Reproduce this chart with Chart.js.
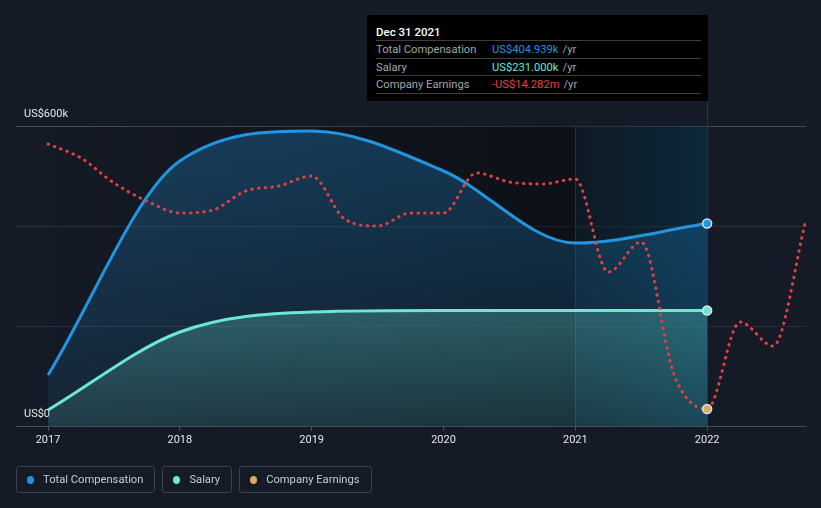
<!DOCTYPE html>
<html lang="en">
<head>
<meta charset="UTF-8">
<title>CEO Compensation vs Company Earnings</title>
<script src="https://cdn.jsdelivr.net/npm/chart.js"></script>
<style>
    * { margin: 0; padding: 0; box-sizing: border-box; }
    body {
        width: 821px; height: 508px; overflow: hidden; position: relative;
        background: #151b26; font-family: Roboto, Arial, sans-serif;
    }
    #wrap { position: absolute; left: 0; top: 0; width: 821px; height: 508px; }
    .tip {
        position: absolute; left: 367px; top: 15px; width: 341px; height: 86px;
        background: #000; padding: 0 7px 0 9px; color: #a0a5ab; font-size: 11.2px;
    }
    .tip h4 {
        font-weight: 500; color: #fff; font-size: 11.5px; line-height: 16px;
        padding-top: 9px; height: 26px; border-bottom: 1px solid #3d3d3d;
    }
    .tip .row { display: flex; height: 17.5px; line-height: 17px; border-bottom: 1px solid #3d3d3d; }
    .tip .lab { width: 116px; }
    .tip .yr { color: #a0a5ab; margin-left: 4px; }
    .legend { position: absolute; left: 16px; top: 466px; display: flex; gap: 7px; }
    .legend div {
        height: 27px; border: 1px solid #3b404b; border-radius: 3px; padding: 0 11px 0 10px;
        display: flex; align-items: center; color: #c6cad0; font-size: 11.2px;
    }
    .legend span { width: 7px; height: 8px; border-radius: 50%; margin-right: 9px; }
</style>
</head>
<body>
<div id="wrap"><canvas id="chart" width="821" height="508"></canvas></div>

<div class="tip">
    <h4>Dec 31 2021</h4>
    <div class="row"><span class="lab">Total Compensation</span><span style="color:#2394df">US$404.939k</span><span class="yr">/yr</span></div>
    <div class="row"><span class="lab">Salary</span><span style="color:#6de6d2">US$231.000k</span><span class="yr">/yr</span></div>
    <div class="row"><span class="lab">Company Earnings</span><span style="color:#e4403f">-US$14.282m</span><span class="yr">/yr</span></div>
</div>

<div class="legend">
    <div><span style="background:#2394df"></span>Total Compensation</div>
    <div><span style="background:#6de6d2"></span>Salary</div>
    <div><span style="background:#e0aa64"></span>Company Earnings</div>
</div>

<script>
    // annual figures, US$k
    const years = [2017, 2018, 2019, 2020, 2021, 2022];
    const totalComp = [102, 530, 590, 510, 366, 404.939];
    const salary = [32, 188, 228, 231, 231, 231];

    // company earnings, US$m (quarterly)
    const earningsDates = [2017, 2017.25, 2017.5, 2017.75, 2018, 2018.25, 2018.5, 2018.75,
        2019, 2019.25, 2019.5, 2019.75, 2020, 2020.25, 2020.5, 2020.75,
        2021, 2021.25, 2021.5, 2021.75, 2022, 2022.25, 2022.5, 2022.75];
    const earnings = [6.92, 5.80, 3.80, 2.36, 1.40, 1.64, 3.16, 3.56,
        4.36, 0.92, 0.36, 1.40, 1.40, 4.60, 3.88, 3.72,
        4.12, -3.32, -0.92, -11.56, -14.282, -7.32, -9.24, 0.84];

    const xTicks = [2017, 2018, 2019, 2020, 2021, 2022];
    const yTickValues = [0, 600];
    const yTickLabels = ['US$0', 'US$600k'];

    const blue = '#2394df', teal = '#6de6d2', red = '#e4403f', orange = '#e0aa64';

    function pts(xs, ys) {
        return xs.map((x, i) => ({ x: x, y: ys[i] }));
    }

    function onlyAt(xVal, r) {
        return ctx => (ctx.raw && ctx.raw.x === xVal) ? r : 0;
    }

    function vGradient(rgb, a0, a1, fromVal) {
        return ctx => {
            const area = ctx.chart.chartArea;
            if (!area) return 'transparent';
            const top = fromVal !== undefined ? ctx.chart.scales.y.getPixelForValue(fromVal) : area.top;
            const g = ctx.chart.ctx.createLinearGradient(0, top, 0, area.bottom);
            g.addColorStop(0, `rgba(${rgb},${a0})`);
            g.addColorStop(1, `rgba(${rgb},${a1})`);
            return g;
        };
    }

    // shaded periods + guide lines behind the series
    const shading = {
        id: 'shading',
        beforeDatasetsDraw(chart) {
            const { ctx, chartArea: a, scales: { x } } = chart;
            const x0 = x.getPixelForValue(2017);
            const x1 = x.getPixelForValue(2021);
            const x2 = x.getPixelForValue(2022);
            ctx.save();
            let g = ctx.createLinearGradient(x0, 0, x1, 0);
            g.addColorStop(0, 'rgba(0,0,0,0)');
            g.addColorStop(1, 'rgba(0,0,0,0.4)');
            ctx.fillStyle = g;
            ctx.fillRect(x0, a.top, x1 - x0, a.bottom - a.top);

            g = ctx.createLinearGradient(x1, 0, x2, 0);
            g.addColorStop(0, 'rgba(5,25,35,0.45)');
            g.addColorStop(1, 'rgba(5,55,80,0.5)');
            ctx.fillStyle = g;
            ctx.fillRect(x1, a.top, x2 - x1, a.bottom - a.top);

            ctx.lineWidth = 1;
            ctx.strokeStyle = 'rgba(40,85,100,0.45)';
            ctx.beginPath();
            ctx.moveTo(Math.round(x1) + 0.5, a.top);
            ctx.lineTo(Math.round(x1) + 0.5, a.bottom);
            ctx.stroke();
            ctx.strokeStyle = '#1c3a4b';
            ctx.beginPath();
            ctx.moveTo(Math.round(x2) + 0.5, 101);
            ctx.lineTo(Math.round(x2) + 0.5, a.bottom);
            ctx.stroke();
            ctx.restore();
        }
    };

    new Chart(document.getElementById('chart'), {
        type: 'line',
        data: {
            datasets: [
                {
                    label: 'Company Earnings',
                    data: pts(earningsDates, earnings),
                    yAxisID: 'y2',
                    borderColor: red,
                    borderWidth: 3,
                    borderDash: [0.5, 6.2],
                    borderCapStyle: 'round',
                    fill: false,
                    order: 0,
                    pointRadius: onlyAt(2022, 4.5),
                    pointBackgroundColor: orange,
                    pointBorderColor: '#d9e2ea',
                    pointBorderWidth: 1.5
                },
                {
                    label: 'Salary',
                    data: pts(years, salary),
                    borderColor: teal,
                    borderWidth: 3,
                    backgroundColor: vGradient('110,230,210', 0.27, 0.12, 231),
                    fill: 'origin',
                    order: 1,
                    pointRadius: onlyAt(2022, 4.5),
                    pointBackgroundColor: teal,
                    pointBorderColor: '#d9e2ea',
                    pointBorderWidth: 1.5
                },
                {
                    label: 'Total Compensation',
                    data: pts(years, totalComp),
                    borderColor: blue,
                    borderWidth: 3,
                    backgroundColor: vGradient('35,148,223', 0.3, 0.08),
                    fill: 'origin',
                    order: 2,
                    pointRadius: onlyAt(2022, 4.5),
                    pointBackgroundColor: blue,
                    pointBorderColor: '#d9e2ea',
                    pointBorderWidth: 1.5
                }
            ]
        },
        options: {
            responsive: false,
            animation: false,
            events: [],
            cubicInterpolationMode: 'monotone',
            layout: { padding: { left: 16, right: 15, top: 126, bottom: 52 } },
            plugins: { legend: { display: false }, tooltip: { enabled: false } },
            scales: {
                x: {
                    type: 'linear',
                    min: 2016.757,
                    max: 2022.75,
                    afterBuildTicks: scale => { scale.ticks = xTicks.map(v => ({ value: v })); },
                    afterFit: scale => { scale.height = 30; },
                    border: { display: false },
                    grid: { drawOnChartArea: false, tickLength: 5, color: '#4a4f58' },
                    ticks: {
                        color: '#e6e6e6',
                        font: { family: 'Roboto', size: 11 },
                        padding: 3,
                        maxRotation: 0,
                        callback: v => String(v)
                    }
                },
                y: {
                    min: 0,
                    max: 600,
                    afterBuildTicks: scale => { scale.ticks = [0, 200, 400, 600].map(v => ({ value: v })); },
                    afterFit: scale => { scale.width = 0; },
                    border: { display: false },
                    grid: {
                        drawTicks: false,
                        color: c => yTickValues.includes(c.tick.value) ? '#474c55' : '#2a303b'
                    },
                    ticks: {
                        mirror: true,
                        padding: 8,
                        labelOffset: -12,
                        color: '#e6e6e6',
                        font: { family: 'Roboto', size: 11 },
                        callback: v => {
                            const i = yTickValues.indexOf(v);
                            return i >= 0 ? yTickLabels[i] : '';
                        }
                    }
                },
                y2: { display: false, min: -15.64, max: 8.36 }
            }
        },
        plugins: [shading]
    });
</script>
</body>
</html>
